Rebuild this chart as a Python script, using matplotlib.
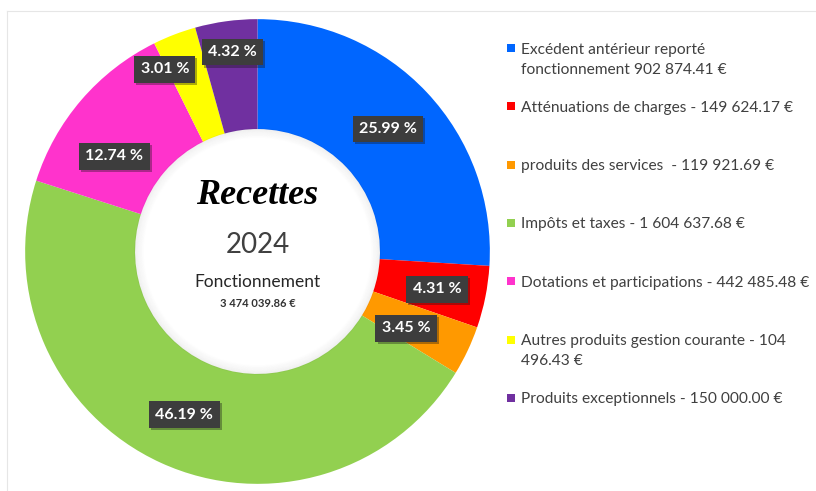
import numpy as np
import matplotlib.pyplot as plt
import matplotlib.patheffects as pe
from matplotlib.patches import Rectangle, Circle

plt.rcParams['font.family'] = ['Lato', 'DejaVu Sans']

# données
categories = [
    "Excédent antérieur reporté\nfonctionnement 902 874.41 €",
    "Atténuations de charges - 149 624.17 €",
    "produits des services  - 119 921.69 €",
    "Impôts et taxes - 1 604 637.68 €",
    "Dotations et participations - 442 485.48 €",
    "Autres produits gestion courante - 104\n496.43 €",
    "Produits exceptionnels - 150 000.00 €",
]
pourcentages = [25.99, 4.31, 3.45, 46.19, 12.74, 3.01, 4.32]
pct_labels = ["25.99 %", "4.31 %", "3.45 %", "46.19 %", "12.74 %", "3.01 %", "4.32 %"]
couleurs = ['#0066ff', '#ff0000', '#ff9900', '#92d050', '#ff33cc', '#ffff00', '#7030a0']

titre = "Recettes"
annee = "2024"
section = "Fonctionnement"
total = "3 474 039.86 €"

W, H = 816, 491
fig = plt.figure(figsize=(W / 100, H / 100), dpi=100)
fig.patch.set_facecolor('white')

# fond en pixels (cadre, légende)
bg = fig.add_axes([0, 0, 1, 1])
bg.set_xlim(0, W)
bg.set_ylim(H, 0)
bg.axis('off')
bg.plot([7, W], [11, 11], color='#e6e6e6', lw=0.8)
bg.plot([7, 7], [11, H], color='#e6e6e6', lw=0.8)

# anneau
cx, cy, R = 257.5, 251.5, 237
ax = fig.add_axes([(cx - R) / W, (H - cy - R) / H, 2 * R / W, 2 * R / H])
trou = 0.527
wedges, _ = ax.pie(pourcentages, colors=couleurs, startangle=90, counterclock=False,
                   radius=1, wedgeprops=dict(width=1 - trou, linewidth=0))
ax.set_xlim(-1.02, 1.02)
ax.set_ylim(-1.02, 1.02)
ax.set_aspect('equal')
ax.axis('off')

# ombre interne du trou
for k in range(10):
    ax.add_patch(Circle((0, 0), trou - k * 0.004, facecolor='none',
                        edgecolor='#000000', lw=1.2, alpha=0.035 * (10 - k) / 10, zorder=3))

# étiquettes de pourcentage
dist = [0.77, 0.79, 0.72, 0.77, 0.74, 0.88, 0.865]
decal = [0, -0.6, -2, 0.5, 7, 6, -0.6]
for w, txt, d, da in zip(wedges, pct_labels, dist, decal):
    a = np.deg2rad((w.theta1 + w.theta2) / 2 + da)
    t = ax.text(d * np.cos(a), d * np.sin(a), txt, ha='center', va='center',
                fontsize=11.5, fontweight='bold', color='white', zorder=5,
                bbox=dict(boxstyle='square,pad=0.4', facecolor='#3d3d3d', edgecolor='none'))
    t.get_bbox_patch().set_path_effects([
        pe.SimplePatchShadow(offset=(1.5, -1.5), alpha=0.35), pe.Normal()])

# textes au centre
ax.text(0, 0.24, titre, ha='center', va='center', fontsize=26, fontstyle='italic',
        fontweight='bold', family=['Liberation Serif', 'DejaVu Serif'], color='black', zorder=6)
ax.text(0, 0.03, annee, ha='center', va='center', fontsize=20, fontweight='normal',
        color='#404040', zorder=6)
ax.text(0, -0.13, section, ha='center', va='center', fontsize=12.5, color='#262626', zorder=6)
ax.text(0, -0.225, total, ha='center', va='center', fontsize=8, fontweight='bold',
        color='#333333', zorder=6)

# légende
y0, pas = 48, 58.3
for i, (lab, c) in enumerate(zip(categories, couleurs)):
    y = y0 + i * pas
    bg.add_patch(Rectangle((507, y - 4), 8, 8, facecolor=c, edgecolor='none'))
    if '\n' in lab:
        bg.text(521, y - 5, lab, ha='left', va='top', fontsize=11.2,
                color='#404040', linespacing=1.5)
    else:
        bg.text(521, y, lab, ha='left', va='center_baseline', fontsize=11.2, color='#404040')

fig.savefig('out.png', dpi=100, facecolor='white')
